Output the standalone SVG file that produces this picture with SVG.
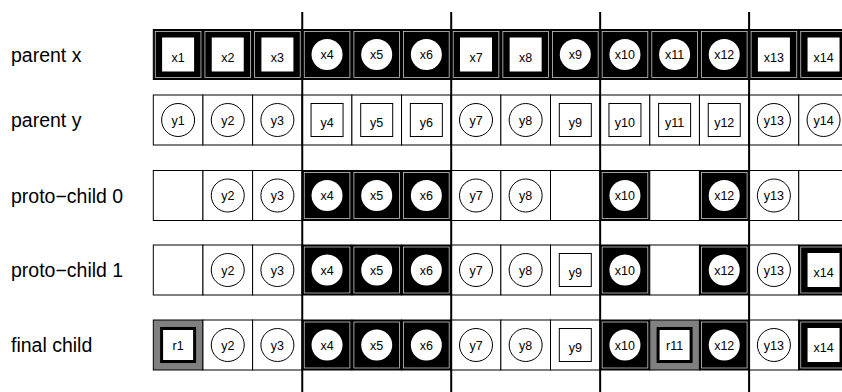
<svg xmlns="http://www.w3.org/2000/svg" width="842" height="392" viewBox="0 0 842 392">
<style>
.bg{fill:#fff}
.cb{fill:#000;stroke:#000;stroke-width:1}
.ci{fill:none;stroke:#c8c8c8;stroke-width:0.8}
.cw{fill:#fff;stroke:#000;stroke-width:1}
.cg{fill:#808080;stroke:#000;stroke-width:1}
.wc{fill:#fff;stroke:none}
.oc{fill:#fff;stroke:#000;stroke-width:1}
.ws{fill:#fff;stroke:none}
.os{fill:#fff;stroke:#000;stroke-width:1}
.rs{fill:#fff;stroke:#000;stroke-width:3}
.t{font-family:"Liberation Sans",Arial,sans-serif;font-size:12.5px;text-anchor:middle;fill:#000}
.lbl{font-family:"Liberation Sans",Arial,sans-serif;font-size:19.5px;fill:#000}
.div{stroke:#000;stroke-width:2}
</style>
<defs>
<g id="B"><rect class="cb" x="0" y="0" width="49.65" height="50"/><rect class="ci" x="2" y="2" width="45.65" height="46"/></g>
<g id="W"><rect class="cw" x="0" y="0" width="49.65" height="50"/></g>
<g id="G"><rect class="cg" x="0" y="0" width="49.65" height="50"/></g>
<circle id="WC" class="wc" cx="24.8" cy="25" r="15.5"/>
<circle id="OC" class="oc" cx="24.8" cy="25" r="16.5"/>
<rect id="WS" class="ws" x="8.8" y="8" width="32" height="34"/>
<rect id="OS" class="os" x="8.8" y="8.5" width="32" height="33"/>
<rect id="RS" class="rs" x="8.3" y="8.5" width="33" height="33"/>
</defs>
<rect class="bg" x="0" y="0" width="842" height="392"/>

<g id="labels">
<text class="lbl" x="11" y="61.5">parent x</text>
<text class="lbl" x="11" y="127">parent y</text>
<text class="lbl" x="11" y="202.5">proto−child 0</text>
<text class="lbl" x="11" y="277">proto−child 1</text>
<text class="lbl" x="11" y="352">final child</text>
</g>

<g id="row-parent-x">
<g id="px1" transform="translate(153.3,29.5)"><use href="#B"/><use href="#WS"/><text class="t" x="24.8" y="32">x1</text></g>
<g id="px2" transform="translate(202.95,29.5)"><use href="#B"/><use href="#WS"/><text class="t" x="24.8" y="32">x2</text></g>
<g id="px3" transform="translate(252.6,29.5)"><use href="#B"/><use href="#WS"/><text class="t" x="24.8" y="32">x3</text></g>
<g id="px4" transform="translate(302.25,29.5)"><use href="#B"/><use href="#WC"/><text class="t" x="24.8" y="29.5">x4</text></g>
<g id="px5" transform="translate(351.9,29.5)"><use href="#B"/><use href="#WC"/><text class="t" x="24.8" y="29.5">x5</text></g>
<g id="px6" transform="translate(401.55,29.5)"><use href="#B"/><use href="#WC"/><text class="t" x="24.8" y="29.5">x6</text></g>
<g id="px7" transform="translate(451.2,29.5)"><use href="#B"/><use href="#WS"/><text class="t" x="24.8" y="32">x7</text></g>
<g id="px8" transform="translate(500.85,29.5)"><use href="#B"/><use href="#WS"/><text class="t" x="24.8" y="32">x8</text></g>
<g id="px9" transform="translate(550.5,29.5)"><use href="#B"/><use href="#WC"/><text class="t" x="24.8" y="29.5">x9</text></g>
<g id="px10" transform="translate(600.15,29.5)"><use href="#B"/><use href="#WC"/><text class="t" x="24.8" y="29.5">x10</text></g>
<g id="px11" transform="translate(649.8,29.5)"><use href="#B"/><use href="#WC"/><text class="t" x="24.8" y="29.5">x11</text></g>
<g id="px12" transform="translate(699.45,29.5)"><use href="#B"/><use href="#WC"/><text class="t" x="24.8" y="29.5">x12</text></g>
<g id="px13" transform="translate(749.1,29.5)"><use href="#B"/><use href="#WS"/><text class="t" x="24.8" y="32">x13</text></g>
<g id="px14" transform="translate(798.75,29.5)"><use href="#B"/><use href="#WS"/><text class="t" x="24.8" y="32">x14</text></g>
</g>

<g id="row-parent-y">
<g id="py1" transform="translate(153.3,95)"><use href="#W"/><use href="#OC"/><text class="t" x="24.8" y="29.5">y1</text></g>
<g id="py2" transform="translate(202.95,95)"><use href="#W"/><use href="#OC"/><text class="t" x="24.8" y="29.5">y2</text></g>
<g id="py3" transform="translate(252.6,95)"><use href="#W"/><use href="#OC"/><text class="t" x="24.8" y="29.5">y3</text></g>
<g id="py4" transform="translate(302.25,95)"><use href="#W"/><use href="#OS"/><text class="t" x="24.8" y="31.5">y4</text></g>
<g id="py5" transform="translate(351.9,95)"><use href="#W"/><use href="#OS"/><text class="t" x="24.8" y="31.5">y5</text></g>
<g id="py6" transform="translate(401.55,95)"><use href="#W"/><use href="#OS"/><text class="t" x="24.8" y="31.5">y6</text></g>
<g id="py7" transform="translate(451.2,95)"><use href="#W"/><use href="#OC"/><text class="t" x="24.8" y="29.5">y7</text></g>
<g id="py8" transform="translate(500.85,95)"><use href="#W"/><use href="#OC"/><text class="t" x="24.8" y="29.5">y8</text></g>
<g id="py9" transform="translate(550.5,95)"><use href="#W"/><use href="#OS"/><text class="t" x="24.8" y="31.5">y9</text></g>
<g id="py10" transform="translate(600.15,95)"><use href="#W"/><use href="#OS"/><text class="t" x="24.8" y="31.5">y10</text></g>
<g id="py11" transform="translate(649.8,95)"><use href="#W"/><use href="#OS"/><text class="t" x="24.8" y="31.5">y11</text></g>
<g id="py12" transform="translate(699.45,95)"><use href="#W"/><use href="#OS"/><text class="t" x="24.8" y="31.5">y12</text></g>
<g id="py13" transform="translate(749.1,95)"><use href="#W"/><use href="#OC"/><text class="t" x="24.8" y="29.5">y13</text></g>
<g id="py14" transform="translate(798.75,95)"><use href="#W"/><use href="#OC"/><text class="t" x="24.8" y="29.5">y14</text></g>
</g>

<g id="row-proto-child-0">
<g id="p0c1" transform="translate(153.3,170.5)"><use href="#W"/></g>
<g id="p0c2" transform="translate(202.95,170.5)"><use href="#W"/><use href="#OC"/><text class="t" x="24.8" y="29.5">y2</text></g>
<g id="p0c3" transform="translate(252.6,170.5)"><use href="#W"/><use href="#OC"/><text class="t" x="24.8" y="29.5">y3</text></g>
<g id="p0c4" transform="translate(302.25,170.5)"><use href="#B"/><use href="#WC"/><text class="t" x="24.8" y="29.5">x4</text></g>
<g id="p0c5" transform="translate(351.9,170.5)"><use href="#B"/><use href="#WC"/><text class="t" x="24.8" y="29.5">x5</text></g>
<g id="p0c6" transform="translate(401.55,170.5)"><use href="#B"/><use href="#WC"/><text class="t" x="24.8" y="29.5">x6</text></g>
<g id="p0c7" transform="translate(451.2,170.5)"><use href="#W"/><use href="#OC"/><text class="t" x="24.8" y="29.5">y7</text></g>
<g id="p0c8" transform="translate(500.85,170.5)"><use href="#W"/><use href="#OC"/><text class="t" x="24.8" y="29.5">y8</text></g>
<g id="p0c9" transform="translate(550.5,170.5)"><use href="#W"/></g>
<g id="p0c10" transform="translate(600.15,170.5)"><use href="#B"/><use href="#WC"/><text class="t" x="24.8" y="29.5">x10</text></g>
<g id="p0c11" transform="translate(649.8,170.5)"><use href="#W"/></g>
<g id="p0c12" transform="translate(699.45,170.5)"><use href="#B"/><use href="#WC"/><text class="t" x="24.8" y="29.5">x12</text></g>
<g id="p0c13" transform="translate(749.1,170.5)"><use href="#W"/><use href="#OC"/><text class="t" x="24.8" y="29.5">y13</text></g>
<g id="p0c14" transform="translate(798.75,170.5)"><use href="#W"/></g>
</g>

<g id="row-proto-child-1">
<g id="p1c1" transform="translate(153.3,245)"><use href="#W"/></g>
<g id="p1c2" transform="translate(202.95,245)"><use href="#W"/><use href="#OC"/><text class="t" x="24.8" y="29.5">y2</text></g>
<g id="p1c3" transform="translate(252.6,245)"><use href="#W"/><use href="#OC"/><text class="t" x="24.8" y="29.5">y3</text></g>
<g id="p1c4" transform="translate(302.25,245)"><use href="#B"/><use href="#WC"/><text class="t" x="24.8" y="29.5">x4</text></g>
<g id="p1c5" transform="translate(351.9,245)"><use href="#B"/><use href="#WC"/><text class="t" x="24.8" y="29.5">x5</text></g>
<g id="p1c6" transform="translate(401.55,245)"><use href="#B"/><use href="#WC"/><text class="t" x="24.8" y="29.5">x6</text></g>
<g id="p1c7" transform="translate(451.2,245)"><use href="#W"/><use href="#OC"/><text class="t" x="24.8" y="29.5">y7</text></g>
<g id="p1c8" transform="translate(500.85,245)"><use href="#W"/><use href="#OC"/><text class="t" x="24.8" y="29.5">y8</text></g>
<g id="p1c9" transform="translate(550.5,245)"><use href="#W"/><use href="#OS"/><text class="t" x="24.8" y="31.5">y9</text></g>
<g id="p1c10" transform="translate(600.15,245)"><use href="#B"/><use href="#WC"/><text class="t" x="24.8" y="29.5">x10</text></g>
<g id="p1c11" transform="translate(649.8,245)"><use href="#W"/></g>
<g id="p1c12" transform="translate(699.45,245)"><use href="#B"/><use href="#WC"/><text class="t" x="24.8" y="29.5">x12</text></g>
<g id="p1c13" transform="translate(749.1,245)"><use href="#W"/><use href="#OC"/><text class="t" x="24.8" y="29.5">y13</text></g>
<g id="p1c14" transform="translate(798.75,245)"><use href="#B"/><use href="#WS"/><text class="t" x="24.8" y="32">x14</text></g>
</g>

<g id="row-final-child">
<g id="fc1" transform="translate(153.3,320)"><use href="#G"/><use href="#RS"/><text class="t" x="24.8" y="30">r1</text></g>
<g id="fc2" transform="translate(202.95,320)"><use href="#W"/><use href="#OC"/><text class="t" x="24.8" y="29.5">y2</text></g>
<g id="fc3" transform="translate(252.6,320)"><use href="#W"/><use href="#OC"/><text class="t" x="24.8" y="29.5">y3</text></g>
<g id="fc4" transform="translate(302.25,320)"><use href="#B"/><use href="#WC"/><text class="t" x="24.8" y="29.5">x4</text></g>
<g id="fc5" transform="translate(351.9,320)"><use href="#B"/><use href="#WC"/><text class="t" x="24.8" y="29.5">x5</text></g>
<g id="fc6" transform="translate(401.55,320)"><use href="#B"/><use href="#WC"/><text class="t" x="24.8" y="29.5">x6</text></g>
<g id="fc7" transform="translate(451.2,320)"><use href="#W"/><use href="#OC"/><text class="t" x="24.8" y="29.5">y7</text></g>
<g id="fc8" transform="translate(500.85,320)"><use href="#W"/><use href="#OC"/><text class="t" x="24.8" y="29.5">y8</text></g>
<g id="fc9" transform="translate(550.5,320)"><use href="#W"/><use href="#OS"/><text class="t" x="24.8" y="31.5">y9</text></g>
<g id="fc10" transform="translate(600.15,320)"><use href="#B"/><use href="#WC"/><text class="t" x="24.8" y="29.5">x10</text></g>
<g id="fc11" transform="translate(649.8,320)"><use href="#G"/><use href="#RS"/><text class="t" x="24.8" y="30">r11</text></g>
<g id="fc12" transform="translate(699.45,320)"><use href="#B"/><use href="#WC"/><text class="t" x="24.8" y="29.5">x12</text></g>
<g id="fc13" transform="translate(749.1,320)"><use href="#W"/><use href="#OC"/><text class="t" x="24.8" y="29.5">y13</text></g>
<g id="fc14" transform="translate(798.75,320)"><use href="#B"/><use href="#WS"/><text class="t" x="24.8" y="32">x14</text></g>
</g>

<g id="connectors">
<line class="div" x1="302.25" y1="12" x2="302.25" y2="392"/>
<line class="div" x1="451.2" y1="12" x2="451.2" y2="392"/>
<line class="div" x1="600.15" y1="12" x2="600.15" y2="392"/>
<line class="div" x1="749.1" y1="12" x2="749.1" y2="392"/>
</g>
</svg>
